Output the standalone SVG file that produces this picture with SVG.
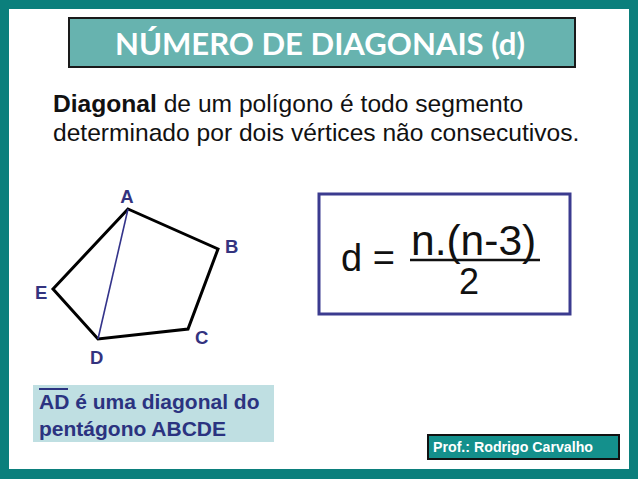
<svg xmlns="http://www.w3.org/2000/svg" width="638" height="479" viewBox="0 0 638 479">
<style>
.lbl{font-family:"Liberation Sans",Arial,sans-serif;font-weight:bold;font-size:18.5px;fill:#33337f}
.body{font-family:"Liberation Sans",Arial,sans-serif;font-size:24.6px;fill:#111}
.formula{font-family:"Liberation Sans",Arial,sans-serif;fill:#111}
.note{font-family:"Liberation Sans",Arial,sans-serif;font-weight:bold;font-size:21px;fill:#2b3380}
</style>
<rect x="0" y="0" width="638" height="479" fill="#0b7f7c"/>
<rect x="9" y="9" width="620" height="460" fill="#ffffff"/>
<g id="title">
<rect x="69" y="18" width="506" height="49" fill="#67b3af" stroke="#1a1a1a" stroke-width="2"/>
<text x="320" y="55" text-anchor="middle" font-family="Lato,'Open Sans',sans-serif" font-weight="bold" font-size="31" fill="#ffffff" textLength="410" lengthAdjust="spacingAndGlyphs">NÚMERO DE DIAGONAIS (d)</text>
</g>
<g id="definition">
<text class="body" x="53" y="112"><tspan font-weight="bold">Diagonal</tspan> de um polígono é todo segmento</text>
<text class="body" x="53" y="141">determinado por dois vértices não consecutivos.</text>
</g>
<g id="pentagon">
<polygon points="128,209 218,249 188,329 98,339 53,289" fill="none" stroke="#000" stroke-width="3" stroke-linejoin="miter"/>
<line x1="128" y1="209" x2="98" y2="339" stroke="#33338a" stroke-width="1.6"/>
<text class="lbl" x="127" y="203" text-anchor="middle">A</text>
<text class="lbl" x="225" y="253">B</text>
<text class="lbl" x="195" y="344">C</text>
<text class="lbl" x="90" y="364">D</text>
<text class="lbl" x="35" y="299">E</text>
</g>
<g id="formula">
<rect x="319" y="194" width="251" height="120" fill="#ffffff" stroke="#3b3b8f" stroke-width="3"/>
<text class="formula" x="341" y="271" font-size="38">d =</text>
<text class="formula" x="411" y="255" font-size="42.5">n.(n-3)</text>
<line x1="410" y1="260" x2="540" y2="260" stroke="#111" stroke-width="2.5"/>
<text class="formula" x="469" y="294" font-size="36" text-anchor="middle">2</text>
</g>
<g id="note">
<rect x="33" y="385" width="241" height="57" fill="#bfdfe2"/>
<line x1="39" y1="389" x2="68" y2="389" stroke="#2b3380" stroke-width="2"/>
<text class="note" x="39" y="409">AD é uma diagonal do</text>
<text class="note" x="39" y="436">pentágono ABCDE</text>
</g>
<g id="author">
<rect x="428" y="435" width="191" height="24" fill="#14908c" stroke="#111" stroke-width="2"/>
<text x="433" y="452" font-family="'Liberation Sans',Arial,sans-serif" font-weight="bold" font-size="14" fill="#ffffff" textLength="160" lengthAdjust="spacingAndGlyphs">Prof.: Rodrigo Carvalho</text>
</g>
</svg>
